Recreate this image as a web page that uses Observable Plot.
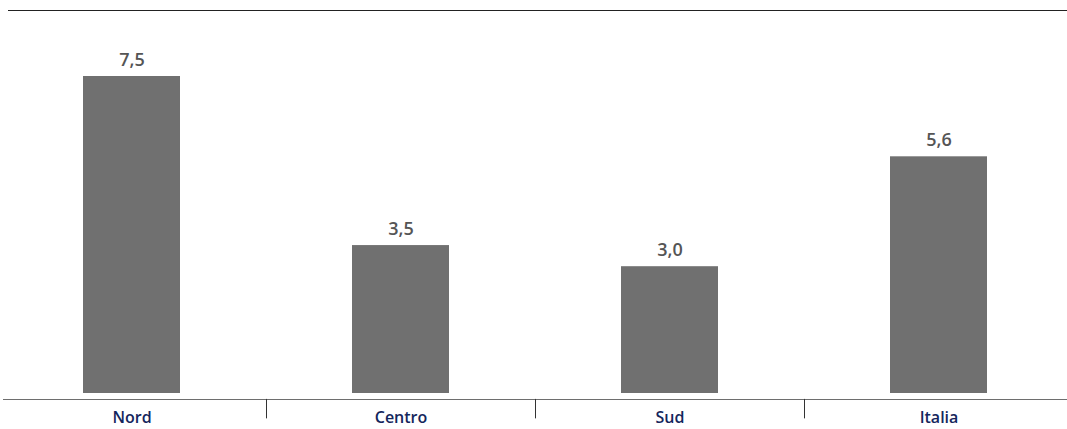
<!DOCTYPE html>
<html>
<head>
<meta charset="utf-8">
<script src="https://cdn.jsdelivr.net/npm/d3@7"></script>
<script src="https://cdn.jsdelivr.net/npm/@observablehq/plot@0.6"></script>
<style>
  html, body { margin: 0; padding: 0; background: #fff; }
  #chart svg { display: block; }
</style>
</head>
<body>
<div id="chart"></div>
<script>
const categories = ["Nord", "Centro", "Sud", "Italia"];
const values = [7.5, 3.5, 3.0, 5.6];
const separators = ["Nord", "Centro", "Sud"];

const data = categories.map((c, i) => ({cat: c, value: values[i]}));
const fmt = v => v.toFixed(1).replace(".", ",");
const font = "'Open Sans', Lato, sans-serif";

const W = 1067, H = 429;
const step = 269;

const chart = Plot.plot({
  width: W,
  height: H,
  marginTop: 10,
  marginBottom: 30,
  marginLeft: 0,
  marginRight: 0,
  style: {fontFamily: font, background: "#fff"},
  x: {domain: categories, range: [-3, 1073], paddingInner: 0.64, paddingOuter: 0.32, axis: null},
  y: {domain: [0, 7.5], range: [393, 76], axis: null},
  marks: [
    Plot.frame({anchor: "top", stroke: "#222", strokeOpacity: 1, insetLeft: 8}),
    Plot.barY(data, {x: "cat", y: "value", fill: "#707070"}),
    Plot.frame({anchor: "bottom", stroke: "#6e6e6e", strokeOpacity: 1, insetLeft: 3}),
    Plot.ruleX(separators, {x: d => d, dx: step / 2, y1: -0.14, y2: -0.6, stroke: "#333", strokeWidth: 1}),
    Plot.text(data, {x: "cat", y: "value", text: d => fmt(d.value), lineAnchor: "bottom", dy: -11,
      fill: "#555", fontSize: 18, fontWeight: 600}),
    Plot.text(data, {x: "cat", y: 0, text: "cat", dy: 24, fill: "#14265c", fontSize: 16, fontWeight: 600})
  ]
});
document.getElementById("chart").appendChild(chart);
</script>
</body>
</html>
